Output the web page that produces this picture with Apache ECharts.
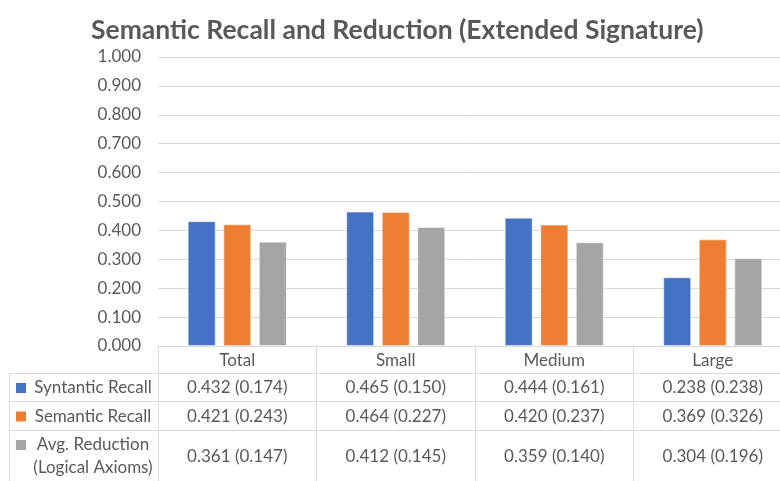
<!DOCTYPE html>
<html>
<head>
<meta charset="utf-8">
<script src="https://cdn.jsdelivr.net/npm/echarts@6/dist/echarts.min.js"></script>
<style>
html,body{margin:0;padding:0;background:#fff;}
#chart{width:780px;height:481px;}
</style>
</head>
<body>
<div id="chart"></div>
<script>
const categories = ['Total', 'Small', 'Medium', 'Large'];
const seriesNames = ['Syntantic Recall', 'Semantic Recall', 'Avg. Reduction\n(Logical Axioms)'];
const syntacticRecall = [0.432, 0.465, 0.444, 0.238];
const syntacticStd = [0.174, 0.150, 0.161, 0.238];
const semanticRecall = [0.421, 0.464, 0.420, 0.369];
const semanticStd = [0.243, 0.227, 0.237, 0.326];
const avgReduction = [0.361, 0.412, 0.359, 0.304];
const avgReductionStd = [0.147, 0.145, 0.140, 0.196];
const colors = ['#4472C4', '#ED7D31', '#A5A5A5'];

const FONT = 'Lato';
const TXT = '#595959';
const LINE = '#D9D9D9';

const chart = echarts.init(document.getElementById('chart'));
const values = [syntacticRecall, semanticRecall, avgReduction];
const stds = [syntacticStd, semanticStd, avgReductionStd];

chart.setOption({
  animation: false,
  title: {
    text: 'Semantic Recall and Reduction (Extended Signature)',
    left: 86, top: 12,
    textStyle: { fontFamily: FONT, fontWeight: 'bold', fontSize: 26.5, color: TXT }
  },
  grid: { left: 158, width: 634, top: 57, height: 289, containLabel: false, outerBoundsMode: 'none' },
  xAxis: {
    type: 'category', data: categories,
    axisLine: { show: true, lineStyle: { color: LINE, width: 1 } },
    axisTick: { show: true, length: 140, alignWithLabel: false, lineStyle: { color: LINE } },
    axisLabel: { margin: 6, fontFamily: FONT, fontSize: 17, color: TXT, lineHeight: 17 }
  },
  yAxis: {
    type: 'value', min: 0, max: 1, interval: 0.1,
    axisLine: { show: false }, axisTick: { show: false },
    splitLine: { lineStyle: { color: LINE, width: 1 } },
    axisLabel: { margin: 17, fontFamily: FONT, fontSize: 17, color: TXT, formatter: v => v.toFixed(3) }
  },
  series: values.map((vals, i) => ({
    name: seriesNames[i], type: 'bar', data: vals,
    barWidth: 28, barGap: '27%',
    itemStyle: { color: colors[i], borderColor: 'rgba(255,255,255,0.5)', borderWidth: 1 }
  }))
});

// data table below the plot
const rowBounds = [373, 401, 430, 481];
const tableLeft = 9;
const tableRight = 792;
const g = [];
rowBounds.slice(0, 3).forEach(y => {
  g.push({ type: 'line', shape: { x1: tableLeft, y1: y + 0.5, x2: tableRight, y2: y + 0.5 }, style: { stroke: LINE, lineWidth: 1 } });
});
g.push({ type: 'line', shape: { x1: tableLeft + 0.5, y1: rowBounds[0], x2: tableLeft + 0.5, y2: 481 }, style: { stroke: LINE, lineWidth: 1 } });

for (let r = 0; r < 3; r++) {
  const yc = (rowBounds[r] + rowBounds[r + 1]) / 2 + 1;
  const lines = seriesNames[r].split('\n');
  const lh = 23;
  lines.forEach((ln, k) => {
    const ty = yc + (k - (lines.length - 1) / 2) * lh;
    g.push({ type: 'text', x: 93, y: ty, style: { text: ln, font: '17px ' + FONT, fill: TXT, align: 'center', verticalAlign: 'middle' } });
  });
  const sqY = lines.length > 1 ? yc - lh / 2 : yc;
  g.push({ type: 'rect', shape: { x: 16, y: sqY - 5, width: 10, height: 10 }, style: { fill: colors[r] } });
  categories.forEach((c, i) => {
    const x = chart.convertToPixel({ xAxisIndex: 0 }, c);
    g.push({ type: 'text', x: x, y: yc, style: { text: values[r][i].toFixed(3) + ' (' + stds[r][i].toFixed(3) + ')', font: '17px ' + FONT, fill: TXT, align: 'center', verticalAlign: 'middle' } });
  });
}
chart.setOption({ graphic: g });
</script>
</body>
</html>
